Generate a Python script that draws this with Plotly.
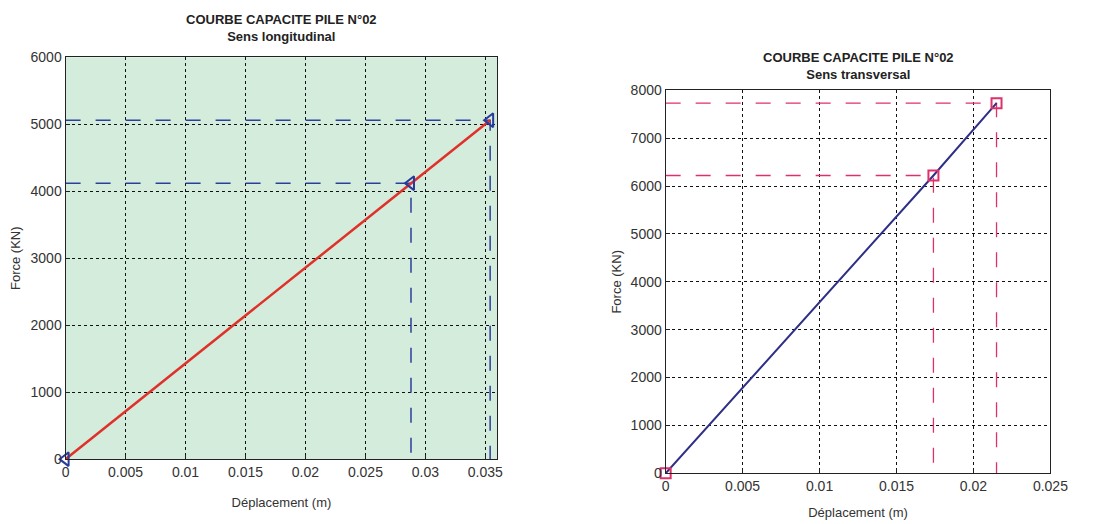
import plotly.graph_objects as go

# Longitudinal direction
long_disp = [0.0, 0.0288, 0.0354]
long_force = [0, 4120, 5060]
# Transverse direction
trans_disp = [0.0, 0.0174, 0.0215]
trans_force = [0, 6220, 7730]

long_xticks = [0, 0.005, 0.01, 0.015, 0.02, 0.025, 0.03, 0.035]
long_xlabels = ["0", "0.005", "0.01", "0.015", "0.02", "0.025", "0.03", "0.035"]
long_yticks = [0, 1000, 2000, 3000, 4000, 5000, 6000]
trans_xticks = [0, 0.005, 0.01, 0.015, 0.02, 0.025]
trans_xlabels = ["0", "0.005", "0.01", "0.015", "0.02", "0.025"]
trans_yticks = [0, 1000, 2000, 3000, 4000, 5000, 6000, 7000, 8000]

title_main = "COURBE CAPACITE PILE N°02"
title_long = "Sens longitudinal"
title_trans = "Sens transversal"
xlabel = "Déplacement (m)"
ylabel = "Force (KN)"

LONG_LINE = "#e0302a"
LONG_MARK = "#2a3a9c"
LONG_DASH = "#2c3f9a"
TRANS_LINE = "#2e2f86"
TRANS_MARK = "#e0306a"
TRANS_DASH = "#e0306a"

NARROW = "Liberation Sans Narrow, Arial Narrow, Liberation Sans, Arial"

fig = go.Figure()

# Longitudinal guides
for x, y in zip(long_disp[1:], long_force[1:]):
    fig.add_trace(go.Scatter(x=[0, x, x], y=[y, y, 0], mode="lines",
                             line=dict(color=LONG_DASH, width=1.5, dash="longdash"),
                             xaxis="x", yaxis="y", hoverinfo="skip", showlegend=False,
                             cliponaxis=False))
fig.add_trace(go.Scatter(x=long_disp, y=long_force, mode="lines",
                         line=dict(color=LONG_LINE, width=2.5),
                         xaxis="x", yaxis="y", showlegend=False))
fig.add_trace(go.Scatter(x=long_disp, y=long_force, mode="markers",
                         marker=dict(symbol="triangle-left-open", size=12,
                                     color=LONG_MARK, line=dict(width=2, color=LONG_MARK)),
                         xaxis="x", yaxis="y", showlegend=False, cliponaxis=False))

# Transverse guides
for x, y in zip(trans_disp[1:], trans_force[1:]):
    fig.add_trace(go.Scatter(x=[0, x, x], y=[y, y, 0], mode="lines",
                             line=dict(color=TRANS_DASH, width=1.3, dash="longdash"),
                             xaxis="x2", yaxis="y2", hoverinfo="skip", showlegend=False,
                             cliponaxis=False))
fig.add_trace(go.Scatter(x=trans_disp, y=trans_force, mode="lines",
                         line=dict(color=TRANS_LINE, width=2),
                         xaxis="x2", yaxis="y2", showlegend=False))
fig.add_trace(go.Scatter(x=trans_disp, y=trans_force, mode="markers",
                         marker=dict(symbol="square-open", size=10,
                                     color=TRANS_MARK, line=dict(width=2, color=TRANS_MARK)),
                         xaxis="x2", yaxis="y2", showlegend=False, cliponaxis=False))

axis_common = dict(showline=True, linecolor="#222", linewidth=1.2, mirror=True,
                   ticks="inside", ticklen=4, tickcolor="#222", automargin=False,
                   showgrid=True, gridcolor="#111", griddash="dot", gridwidth=1.2,
                   zeroline=False, tickfont=dict(size=14, color="#333", family=NARROW))
title_font = dict(size=13, color="#333", family=NARROW)

fig.update_layout(
    width=1093, height=524,
    margin=dict(l=0, r=0, t=0, b=0),
    paper_bgcolor="white",
    plot_bgcolor="rgba(0,0,0,0)",
    font=dict(family=NARROW, color="#333"),
    xaxis=dict(domain=[0.0527, 0.4477], range=[0, 0.036], tickvals=long_xticks,
               ticktext=long_xlabels, anchor="y",
               title=dict(text=xlabel, font=title_font, standoff=18), **axis_common),
    yaxis=dict(domain=[0.139, 0.906], range=[0, 6000], tickvals=long_yticks,
               anchor="x", title=dict(text=ylabel, font=title_font, standoff=6),
               **axis_common),
    xaxis2=dict(domain=[0.6017, 0.9537], range=[0, 0.025], tickvals=trans_xticks,
                ticktext=trans_xlabels, anchor="y2",
                title=dict(text=xlabel, font=title_font, standoff=14), **axis_common),
    yaxis2=dict(domain=[0.112, 0.843], range=[0, 8000], tickvals=trans_yticks,
                anchor="x2", title=dict(text=ylabel, font=title_font, standoff=6),
                **axis_common),
    shapes=[dict(type="rect", xref="x domain", yref="y domain", x0=0, x1=1, y0=0, y1=1,
                 fillcolor="#d3ecdb", line=dict(width=0), layer="below")],
    annotations=[
        dict(text="<b>" + title_main + "</b><br><b>" + title_long + "</b>",
             xref="x domain", yref="paper", x=0.5, y=1 - 2 / 524, xanchor="center",
             yanchor="top", showarrow=False,
             font=dict(size=13, color="#222", family=NARROW)),
        dict(text="<b>" + title_main + "</b><br><b>" + title_trans + "</b>",
             xref="x2 domain", yref="paper", x=0.5, y=1 - 40 / 524, xanchor="center",
             yanchor="top", showarrow=False,
             font=dict(size=13, color="#222", family=NARROW)),
    ],
)

fig.write_html("out.html")
